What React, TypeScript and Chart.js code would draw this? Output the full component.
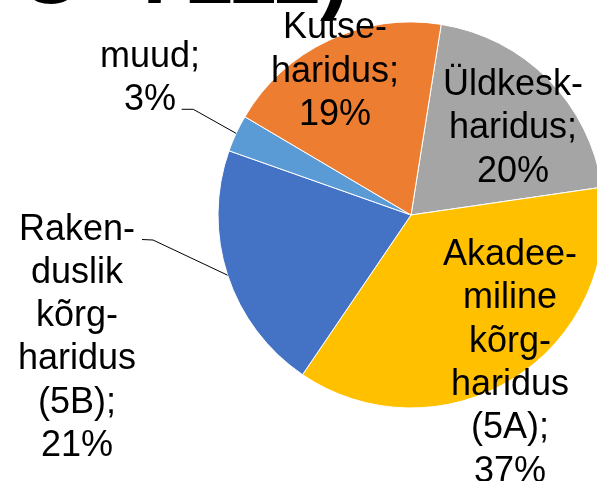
import React, { useEffect, useRef } from "react";
import { Chart, registerables } from "chart.js";

Chart.register(...registerables);

// ---- data ----
const categories = [
  "Üldkeskharidus",
  "Akadeemiline kõrgharidus (5A)",
  "Rakenduslik kõrgharidus (5B)",
  "muud",
  "Kutseharidus",
];
const values = [20.2, 36.8, 20.9, 3.1, 19.0];
const labelLines = [
  ["Üldkesk-", "haridus;"],
  ["Akadee-", "miline", "kõrg-", "haridus", "(5A);"],
  ["Raken-", "duslik", "kõrg-", "haridus", "(5B);"],
  ["muud;"],
  ["Kutse-", "haridus;"],
];
const titleText = "O=7111)";

// ---- styles / layout ----
const colors = ["#A5A5A5", "#FFC000", "#4472C4", "#5B9BD5", "#ED7D31"];
const FONT = "36px 'Liberation Sans', Arial, sans-serif";
const LINE_H = 43.3;
// label positions relative to pie centre (centre x, first baseline y)
const LABEL_LAYOUT: any[] = [
  { dx: 102, dy: -120 },
  { dx: 99, dy: 50 },
  { dx: -334, dy: 24.5, leader: [[-269, 24.5], [-258, 25]] },
  { dx: -261, dy: -148.3, leader: [[-229.3, -105.7], [-217.7, -105.7]] },
  { dx: -76, dy: -176.7 },
];
// title (mostly cut off above the picture)
const TITLE_LEFT = 17;
const TITLE_RIGHT = 349;
const TITLE_BOTTOM = 21;

const labelPlugin = {
  id: "pieLabels",
  afterDatasetsDraw(chart: any) {
    const ctx = chart.ctx;
    const meta = chart.getDatasetMeta(0);
    const total = values.reduce((a, b) => a + b, 0);
    ctx.save();
    meta.data.forEach((arc: any, i: number) => {
      const { x, y, startAngle, endAngle, outerRadius } = arc.getProps(
        ["x", "y", "startAngle", "endAngle", "outerRadius"],
        true
      );
      const lay = LABEL_LAYOUT[i];
      const lines = [...labelLines[i], Math.round((values[i] / total) * 100) + "%"];
      if (lay.leader) {
        const mid = (startAngle + endAngle) / 2;
        const ex = x + Math.cos(mid) * outerRadius;
        const ey = y + Math.sin(mid) * outerRadius;
        ctx.beginPath();
        ctx.strokeStyle = "#000";
        ctx.lineWidth = 1;
        ctx.moveTo(x + lay.leader[0][0], y + lay.leader[0][1]);
        ctx.lineTo(x + lay.leader[1][0], y + lay.leader[1][1]);
        ctx.lineTo(ex, ey);
        ctx.stroke();
      }
      ctx.fillStyle = "#000";
      ctx.font = FONT;
      ctx.textAlign = "center";
      ctx.textBaseline = "alphabetic";
      lines.forEach((l, j) => {
        ctx.fillText(l, x + lay.dx, y + lay.dy + j * LINE_H);
      });
    });
    // partially visible title (cut off at the top)
    ctx.textAlign = "left";
    ctx.textBaseline = "alphabetic";
    ctx.font = "bold 100px 'Liberation Sans', Arial, sans-serif";
    const w = ctx.measureText(titleText).width;
    const size = (100 * (TITLE_RIGHT - TITLE_LEFT)) / w;
    ctx.font = `bold ${size.toFixed(1)}px 'Liberation Sans', Arial, sans-serif`;
    const d = ctx.measureText(")").actualBoundingBoxDescent || size * 0.21;
    ctx.fillText(titleText, TITLE_LEFT, TITLE_BOTTOM - d);
    ctx.restore();
  },
};

export default function App() {
  const ref = useRef<HTMLCanvasElement>(null);
  useEffect(() => {
    document.body.style.margin = "0";
    document.body.style.overflow = "hidden";
    const chart = new Chart(ref.current!, {
      type: "pie",
      data: {
        labels: categories,
        datasets: [
          {
            data: values,
            backgroundColor: colors,
            borderColor: "#ffffff",
            borderWidth: 1,
            clip: false,
          } as any,
        ],
      },
      options: {
        responsive: false,
        animation: false,
        rotation: 9,
        radius: 193,
        layout: { padding: { left: 225, right: 0, top: 0, bottom: 51 } },
        plugins: { legend: { display: false }, tooltip: { enabled: false } },
      } as any,
      plugins: [labelPlugin],
    });
    return () => chart.destroy();
  }, []);
  return (
    <div style={{ width: 597, height: 481, background: "#fff" }}>
      <canvas ref={ref} width={597} height={481} style={{ display: "block" }} />
    </div>
  );
}
